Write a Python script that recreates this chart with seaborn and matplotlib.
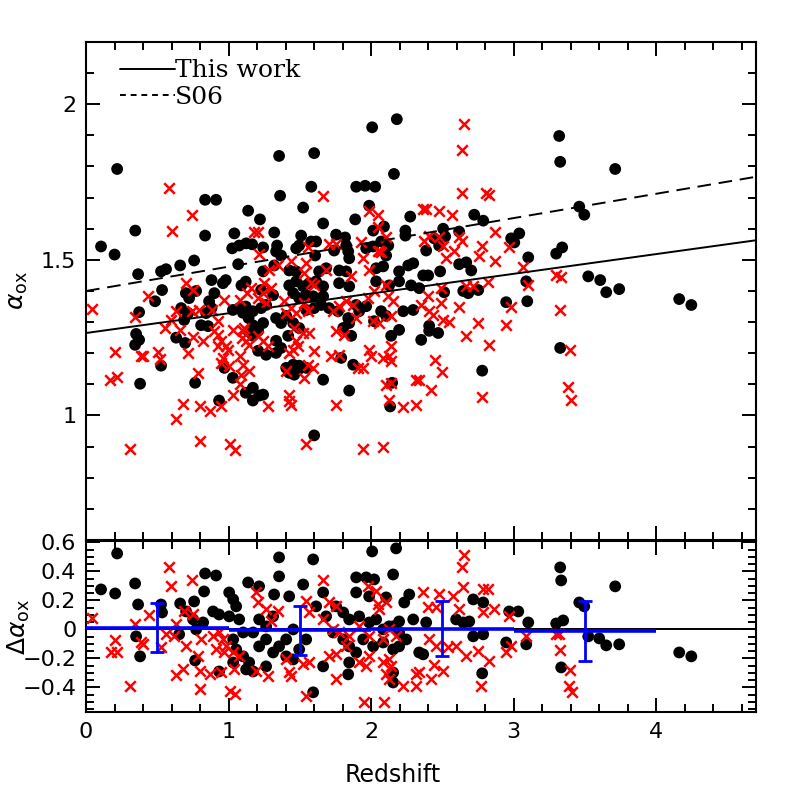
import matplotlib
matplotlib.use('Agg')
import matplotlib.pyplot as plt
import seaborn as sns
from matplotlib.ticker import MultipleLocator, FuncFormatter
from matplotlib.lines import Line2D

# ---- top panel: alpha_ox vs redshift ----
qso_z = [0.218, 0.345, 0.835, 0.912, 1.137, 0.105, 0.20, 0.835, 1.04, 0.365, 0.526, 0.561, 0.66, 0.758, 1.025, 1.074, 1.123, 1.165, 1.067,
         0.533, 0.484, 0.372, 0.351, 0.372, 0.344, 0.526, 0.379, 0.765, 0.933, 0.632, 0.695, 0.667, 0.716, 0.688, 0.723, 0.772, 0.70, 0.807, 0.856,
         0.863, 0.90, 0.88, 0.842, 0.97, 1.03, 1.12, 1.17, 1.17, 1.03, 1.074, 1.10, 1.12, 1.17, 1.14, 1.14, 1.17, 1.17, 0.88, 0.96, 0.98, 1.09, 1.12,
         2.18, 2.007, 1.354, 1.60, 2.16, 1.58, 1.361, 1.895, 1.958, 2.028, 1.523, 1.986, 1.22, 1.888, 2.274, 1.663, 1.32, 1.754, 1.817, 1.509,
         2.09, 2.014, 2.24, 2.24, 1.242, 1.34, 1.333, 1.368, 1.495, 1.474, 1.579, 1.614, 1.607, 1.74, 1.825, 1.839, 1.846, 1.965, 2.014, 2.07,
         2.105, 2.12, 2.035, 2.084, 2.196, 2.26, 2.295, 2.365, 1.425, 1.474, 1.635, 1.684, 1.775, 1.825, 1.32, 1.242,
         1.228, 1.312, 1.263, 1.228, 1.425, 1.474, 1.523, 1.565, 1.614, 1.453, 1.495, 1.544, 1.593, 1.663, 1.649, 1.60, 1.544, 1.333, 1.368,
         1.404, 1.453, 1.495, 1.418, 1.333, 1.368, 1.333, 1.263, 1.207, 1.207, 1.242, 1.404, 1.453, 1.488, 1.46, 1.425, 1.495, 1.544, 1.663,
         1.846, 1.214, 1.242, 1.60, 1.79, 1.874, 2.14, 2.196, 2.351, 2.147, 2.133, 1.663, 1.775, 1.846, 2.035, 2.126, 2.196, 2.28, 2.337,
         2.225, 2.295, 1.705, 1.768, 1.839, 1.895, 1.916, 1.965, 2.07, 2.02, 2.105, 1.846, 1.804, 1.86,
         3.319, 3.326, 2.723, 2.786, 3.46, 3.495, 2.505, 2.519, 2.442, 2.477, 2.386, 2.617, 2.982, 3.039, 3.004, 3.102, 3.298, 3.34, 3.523,
         2.617, 2.667, 2.702, 2.484, 2.40, 2.512, 2.646, 2.681, 2.751, 3.088, 2.947, 3.095, 2.407, 2.407, 2.47, 3.326, 2.779,
         3.712, 3.607, 3.649, 3.74, 4.161, 4.246]
qso_aox = [1.792, 1.594, 1.693, 1.693, 1.658, 1.543, 1.517, 1.578, 1.585, 1.454, 1.463, 1.47, 1.482, 1.498, 1.537, 1.546, 1.553, 1.55, 1.486,
           1.403, 1.367, 1.332, 1.262, 1.243, 1.227, 1.16, 1.102, 1.105, 1.048, 1.25, 1.233, 1.345, 1.329, 1.307, 1.377, 1.40, 1.393, 1.29, 1.287,
           1.367, 1.393, 1.345, 1.329, 1.153, 1.121, 1.073, 1.089, 1.048, 1.339, 1.345, 1.33, 1.35, 1.335, 1.313, 1.27, 1.256, 1.29, 1.435, 1.425, 1.435, 1.418, 1.43,
           1.952, 1.926, 1.834, 1.843, 1.776, 1.735, 1.706, 1.735, 1.738, 1.735, 1.668, 1.674, 1.63, 1.63, 1.639, 1.617, 1.588, 1.581, 1.572, 1.578,
           1.607, 1.594, 1.594, 1.578, 1.54, 1.546, 1.527, 1.514, 1.546, 1.537, 1.559, 1.559, 1.514, 1.53, 1.546, 1.527, 1.505, 1.537, 1.543, 1.559,
           1.514, 1.546, 1.473, 1.479, 1.463, 1.482, 1.489, 1.45, 1.466, 1.463, 1.463, 1.473, 1.466, 1.463, 1.482, 1.463,
           1.403, 1.387, 1.355, 1.345, 1.418, 1.431, 1.415, 1.425, 1.431, 1.393, 1.377, 1.387, 1.383, 1.383, 1.355, 1.345, 1.339, 1.313, 1.297,
           1.32, 1.297, 1.281, 1.256, 1.24, 1.217, 1.201, 1.195, 1.208, 1.272, 1.297, 1.153, 1.163, 1.147, 1.131, 1.137, 1.16, 1.153, 1.115,
           1.08, 1.064, 1.067, 0.936, 1.185, 1.163, 1.256, 1.275, 1.243, 1.105, 1.029, 1.415, 1.425, 1.415, 1.431, 1.418, 1.431, 1.418, 1.409,
           1.335, 1.339, 1.345, 1.335, 1.313, 1.355, 1.335, 1.351, 1.335, 1.303, 1.32, 1.297, 1.281, 1.256,
           1.898, 1.815, 1.645, 1.626, 1.671, 1.645, 1.60, 1.575, 1.569, 1.546, 1.53, 1.591, 1.569, 1.585, 1.556, 1.508, 1.52, 1.54, 1.447,
           1.486, 1.492, 1.466, 1.463, 1.45, 1.396, 1.40, 1.393, 1.403, 1.431, 1.364, 1.367, 1.288, 1.272, 1.265, 1.217, 1.144,
           1.792, 1.435, 1.396, 1.406, 1.374, 1.355]

xs_z = [0.58, 0.745, 0.60, 1.18,
        0.04, 0.435, 0.344, 0.204, 0.386, 0.40, 0.505, 0.52, 0.168, 0.218, 0.786, 0.68, 0.632, 0.80, 0.87, 0.947, 0.80, 1.01, 1.046, 0.309,
        0.554, 0.66, 0.632, 0.596, 0.716, 0.75, 0.82, 0.744, 0.793, 0.70, 0.75, 0.884, 0.926, 0.90, 0.926, 0.947, 0.98, 0.926, 0.997, 0.96,
        1.0, 0.947, 0.97, 1.03, 1.03, 1.08, 1.09, 1.10, 1.14, 1.08, 1.095, 1.14, 1.08, 1.13, 1.11, 1.10, 1.12, 1.16,
        1.663, 1.986, 2.05, 2.365, 1.207, 2.05, 2.105, 2.37, 1.214, 1.558, 1.705, 1.754, 1.93, 1.944, 2.056, 2.07, 2.05, 1.986,
        1.284, 1.347, 1.439, 1.544, 1.53, 1.684, 1.86,
        1.249, 1.298, 1.242, 1.207, 1.263, 1.579, 1.60, 1.39, 1.439, 1.558, 1.53, 1.474, 1.404, 1.46, 1.523, 1.565, 1.474, 1.453, 1.425,
        1.488, 1.207, 1.242, 1.277, 1.60, 1.404, 1.53, 1.558, 1.593, 1.277, 1.425, 1.425, 1.439, 1.754, 1.544, 1.944, 2.084, 1.72, 1.775,
        1.909, 1.944, 1.986, 2.0, 2.084, 2.126, 2.14, 2.14, 2.105, 2.14, 2.126, 2.225, 2.316, 2.316, 2.337, 1.733, 1.775, 1.874, 1.895,
        1.979, 2.014, 2.056, 2.12, 2.154, 2.14, 2.105, 2.02, 1.825, 1.754, 1.81, 2.35,
        2.653, 2.639, 2.639, 2.807, 2.828, 2.386, 2.477, 2.568, 2.87, 2.407, 2.477, 2.505, 2.526, 2.582, 2.617, 2.639, 2.779, 2.758, 2.87,
        2.968, 3.067, 3.298, 2.667, 2.716, 2.821, 2.491, 2.40, 3.102, 3.33, 2.982, 2.617, 2.491, 3.326, 2.435, 2.407, 2.505, 2.547, 2.751,
        2.947, 2.667, 2.828, 3.396, 2.449, 2.498, 2.421, 2.779, 3.383, 3.404]
xs_aox = [1.73, 1.645, 1.594, 1.59,
          1.342, 1.383, 1.316, 1.204, 1.192, 1.192, 1.204, 1.18, 1.115, 1.125, 1.137, 1.038, 0.99, 1.032, 1.013, 1.032, 0.917, 0.907, 0.89, 0.891,
          1.281, 1.275, 1.335, 1.307, 1.20, 1.252, 1.24, 1.335, 1.339, 1.425, 1.403, 1.338, 1.303, 1.27, 1.26, 1.24, 1.224, 1.224, 1.21, 1.185,
          1.16, 1.17, 1.37, 1.275, 1.067, 1.10, 1.13, 1.163, 1.144, 1.19, 1.25, 1.227, 1.37, 1.393, 1.281, 1.27, 1.24, 1.409,
          1.706, 1.658, 1.645, 1.665, 1.591, 1.607, 1.575, 1.562, 1.52, 1.54, 1.55, 1.55, 1.556, 1.505, 1.53, 1.524, 1.527, 1.466,
          1.466, 1.482, 1.495, 1.489, 1.457, 1.466, 1.447,
          1.425, 1.409, 1.393, 1.377, 1.361, 1.425, 1.418, 1.367, 1.345, 1.335, 1.361, 1.329, 1.329, 1.281, 1.265, 1.265, 1.24, 1.211, 1.201,
          1.224, 1.256, 1.24, 1.224, 1.208, 1.144, 1.121, 1.163, 1.153, 1.032, 1.067, 1.048, 1.035, 1.035, 0.907, 0.891, 0.898, 1.192, 1.195,
          1.153, 1.153, 1.211, 1.192, 1.185, 1.192, 1.176, 1.224, 1.099, 1.105, 1.051, 1.026, 1.035, 1.115, 1.115, 1.335, 1.351, 1.355, 1.313,
          1.377, 1.303, 1.297, 1.383, 1.367, 1.32, 1.418, 1.40, 1.367, 1.272, 1.26, 1.355,
          1.936, 1.853, 1.716, 1.716, 1.709, 1.665, 1.658, 1.645, 1.588, 1.578, 1.575, 1.543, 1.505, 1.53, 1.575, 1.559, 1.546, 1.511, 1.495,
          1.54, 1.476, 1.45, 1.415, 1.415, 1.428, 1.409, 1.383, 1.418, 1.445, 1.348, 1.348, 1.361, 1.339, 1.323, 1.335, 1.307, 1.30, 1.297,
          1.291, 1.256, 1.227, 1.211, 1.179, 1.141, 1.083, 1.058, 1.093, 1.051]

# alpha_ox - z relations (end points)
fit_z = [0.0, 4.7]
this_work = [1.265, 1.563]
s06 = [1.40, 1.767]

# ---- bottom panel: residuals ----
qso_z_res = [0.218, 0.105, 0.204, 0.344, 0.365, 0.351, 0.379, 0.835, 0.912, 0.828, 0.526, 0.533, 0.66, 0.758, 0.702, 0.751, 0.653, 0.772,
             0.821, 0.891, 0.933, 0.765, 0.933, 1.004, 1.032, 1.053, 1.004, 1.074, 1.102, 1.032, 1.053, 1.102, 1.144, 1.032, 1.123, 1.172,
             1.137, 1.214, 1.319, 1.354, 1.354, 1.425, 1.523, 1.593, 1.214, 1.263, 1.312, 1.172, 1.214, 1.263, 1.312, 1.354, 1.404, 1.404,
             1.453, 1.495, 1.544, 1.453, 1.263, 1.593,
             2.007, 2.175, 2.154, 1.895, 1.965, 2.021, 1.663, 1.895, 1.986, 2.105, 2.267, 2.232, 2.716, 2.786, 2.968, 3.032, 3.102, 3.088,
             2.947, 2.786, 2.716, 2.646, 2.688, 2.596, 2.386, 2.295, 2.196, 2.154, 1.614, 1.684, 1.754, 1.804, 1.846, 1.916, 1.986, 2.035,
             2.084, 2.126, 2.196, 2.246, 1.733, 1.804, 1.846, 1.895, 1.944, 2.014, 2.084, 2.154, 2.196, 2.337, 2.365, 1.663, 1.846, 1.839,
             2.154, 2.154, 2.779,
             3.326, 3.333, 3.712, 3.46, 3.495, 3.298, 3.347, 3.523, 3.60, 3.649, 3.74, 4.161, 4.246, 3.333]
qso_daox = [0.524, 0.276, 0.248, 0.317, 0.172, -0.048, -0.186, 0.386, 0.372, 0.262, 0.172, 0.117, 0.179, 0.193, 0.124, 0.069, -0.034, 0.0,
            0.048, 0.124, 0.103, -0.214, -0.29, 0.255, 0.207, 0.159, 0.09, 0.069, -0.021, -0.069, -0.138, -0.186, -0.228, -0.228, -0.276, -0.29,
            0.324, 0.297, 0.241, 0.497, 0.366, 0.228, 0.31, 0.483, 0.069, 0.021, 0.09, -0.021, -0.117, -0.069, -0.159, -0.117, -0.069, -0.186,
            -0.207, -0.138, -0.069, 0.0, -0.255, -0.434,
            0.538, 0.559, 0.379, 0.359, 0.359, 0.345, 0.255, 0.255, 0.228, 0.221, 0.241, 0.186, 0.207, 0.186, 0.124, 0.124, 0.048, -0.103,
            -0.09, -0.034, -0.048, 0.048, 0.055, 0.069, 0.048, 0.069, 0.055, 0.021, 0.159, 0.09, 0.159, 0.117, 0.069, 0.09, 0.048, 0.069,
            0.0, 0.021, -0.021, -0.069, -0.021, -0.069, -0.117, -0.159, -0.069, -0.117, -0.09, -0.138, -0.117, -0.159, -0.172, -0.255, -0.228, -0.31,
            -0.297, -0.366, -0.303,
            0.428, 0.338, 0.297, 0.186, 0.159, 0.041, 0.062, -0.048, -0.062, -0.11, -0.103, -0.159, -0.186, -0.262]

xs_z_res = [0.042, 0.344, 0.442, 0.204, 0.175, 0.218, 0.386, 0.40, 0.309, 0.582, 0.596, 0.744, 0.561, 0.526, 0.688, 0.751, 0.632, 0.618,
            0.702, 0.786, 0.807, 0.891, 0.912, 0.68, 0.632, 0.80, 0.87, 0.947, 0.80, 1.01, 1.046, 0.961, 0.982, 1.032, 1.074, 0.933, 0.968,
            1.039, 1.193, 1.207, 1.277, 1.193, 1.425, 1.439, 1.544, 1.404, 1.523, 1.565, 1.544, 1.565, 1.347, 1.263, 1.298,
            2.653, 2.639, 1.663, 1.979, 2.035, 2.105, 2.049, 2.056, 1.705, 1.754, 2.365, 2.477, 2.575, 2.646, 2.786, 2.821, 2.786, 2.863,
            2.968, 2.618, 2.40, 2.456, 1.663, 1.733, 1.775, 1.846, 1.916, 1.986, 2.084, 2.126, 2.175, 1.705, 1.754, 1.825, 1.916, 1.965,
            1.986, 2.084, 2.126, 2.105, 2.126, 2.14, 2.225, 2.316, 2.316, 2.337, 2.421, 2.442, 2.505, 2.407, 2.456, 2.54, 2.596, 2.667,
            2.751, 2.828, 2.947, 2.982, 2.772, 1.754, 1.951, 2.091, 3.088,
            3.298, 3.319, 3.326, 3.396, 3.39, 3.41]
xs_daox = [0.076, 0.034, 0.097, -0.076, -0.159, -0.159, -0.09, -0.103, -0.393, 0.434, 0.297, 0.338, -0.034, -0.124, 0.124, 0.103, 0.034, -0.048,
           -0.117, -0.186, -0.069, -0.048, -0.138, -0.276, -0.317, -0.29, -0.31, -0.297, -0.414, -0.428, -0.448, -0.069, -0.117, -0.159, -0.186,
           -0.021, -0.159, -0.276, 0.255, 0.186, -0.324, -0.29, -0.297, -0.324, -0.462, -0.207, -0.241, -0.228, 0.193, 0.117, 0.124, 0.138, 0.055,
           0.51, 0.428, 0.338, 0.297, 0.262, 0.186, 0.172, 0.138, 0.186, 0.159, 0.255, 0.241, 0.228, 0.29, 0.276, 0.276, 0.117, 0.138,
           0.09, 0.138, 0.152, 0.152, 0.069, 0.0, -0.021, -0.048, 0.021, -0.048, -0.069, 0.0, -0.048, -0.186, -0.172, -0.117, -0.228, -0.255,
           -0.186, -0.228, -0.207, -0.31, -0.345, -0.255, -0.393, -0.393, -0.31, -0.297, -0.345, -0.248, -0.29, -0.069, -0.117, -0.124, -0.117, -0.186,
           -0.152, -0.221, -0.159, -0.117, -0.393, -0.345, -0.503, -0.503, -0.048,
           -0.034, -0.034, -0.145, -0.283, -0.393, -0.434]

# binned mean residuals
bin_lo = [0, 1, 2, 3]
bin_hi = [1, 2, 3, 4]
bin_mid = [0.5, 1.5, 2.5, 3.5]
bin_mean = [0.010, -0.006, 0.006, -0.008]
bin_err = [0.169, 0.169, 0.187, 0.207]

sns.set_style('ticks')
plt.rcParams['font.family'] = ['DejaVu Sans']
plt.rcParams['mathtext.fontset'] = 'dejavusans'
for key in ('text.color', 'axes.labelcolor', 'xtick.color', 'ytick.color', 'axes.edgecolor'):
    plt.rcParams[key] = 'black'

fig = plt.figure(figsize=(7.97, 7.97), dpi=100)
ax1 = fig.add_axes([0.108, 0.3225, 0.8406, 0.6248])
ax2 = fig.add_axes([0.108, 0.1066, 0.8406, 0.2146])

def fmt(v, pos):
    if abs(v) < 1e-9:
        return '0'
    return f'{v:g}'.replace('-', '\u2212')

# top panel
sns.scatterplot(x=qso_z, y=qso_aox, ax=ax1, color='black', marker='o', s=72,
                edgecolor='none', legend=False, zorder=2)
sns.scatterplot(x=xs_z, y=xs_aox, ax=ax1, color='red', marker='x', s=58,
                linewidth=1.8, legend=False, zorder=3)
ax1.plot(fit_z, this_work, color='black', lw=1.4, zorder=4)
ax1.plot(fit_z, s06, color='black', lw=1.4, ls=(0, (7, 4)), zorder=4)

handles = [Line2D([], [], color='black', lw=1.4),
           Line2D([], [], color='black', lw=1.4, ls=(0, (3, 2.5)))]
ax1.legend(handles, ['This work', 'S06'], loc='upper left', bbox_to_anchor=(0.035, 0.985),
           frameon=False, handlelength=2.2, handletextpad=0.0, labelspacing=0.15,
           borderaxespad=0, prop={'family': 'DejaVu Serif', 'size': 18}, labelcolor='black')

ax1.set_xlim(0, 4.7)
ax1.set_ylim(0.6, 2.2)
ax1.xaxis.set_major_locator(MultipleLocator(1))
ax1.xaxis.set_minor_locator(MultipleLocator(0.2))
ax1.yaxis.set_major_locator(MultipleLocator(0.5))
ax1.yaxis.set_minor_locator(MultipleLocator(0.1))
ax1.yaxis.set_major_formatter(FuncFormatter(fmt))
ax1.tick_params(axis='x', labelbottom=False)
ax1.set_ylabel(r'$\alpha_{\rm ox}$', fontsize=18)
ax1.yaxis.set_label_coords(-0.084, 0.5)

# bottom panel
ax2.axhline(0, color='black', lw=1.4, zorder=1)
sns.scatterplot(x=qso_z_res, y=qso_daox, ax=ax2, color='black', marker='o', s=72,
                edgecolor='none', legend=False, zorder=2)
sns.scatterplot(x=xs_z_res, y=xs_daox, ax=ax2, color='red', marker='x', s=58,
                linewidth=1.8, legend=False, zorder=3)
ax2.hlines(bin_mean, bin_lo, bin_hi, color='blue', lw=2.6, zorder=5)
ax2.errorbar(bin_mid, bin_mean, yerr=bin_err, fmt='none', ecolor='blue',
             elinewidth=2, capsize=5, capthick=2, zorder=5)

ax2.set_xlim(0, 4.7)
ax2.set_ylim(-0.57, 0.61)
ax2.xaxis.set_major_locator(MultipleLocator(1))
ax2.xaxis.set_minor_locator(MultipleLocator(0.2))
ax2.yaxis.set_major_locator(MultipleLocator(0.2))
ax2.yaxis.set_minor_locator(MultipleLocator(0.05))
ax2.xaxis.set_major_formatter(FuncFormatter(fmt))
ax2.yaxis.set_major_formatter(FuncFormatter(fmt))
ax2.set_ylabel(r'$\Delta\alpha_{\rm ox}$', fontsize=18)
ax2.yaxis.set_label_coords(-0.081, 0.5)
ax2.set_xlabel('Redshift', fontsize=17)
ax2.xaxis.set_label_coords(0.458, -0.30)

for ax in (ax1, ax2):
    ax.tick_params(which='both', direction='in', top=True, right=True, width=1.4,
                   labelsize=16, color='black', labelcolor='black')
    ax.tick_params(which='major', length=10, pad=7)
    ax.tick_params(which='minor', length=5.5)
    for sp in ax.spines.values():
        sp.set_linewidth(1.5)
        sp.set_color('black')

fig.savefig('out.png', dpi=100)
